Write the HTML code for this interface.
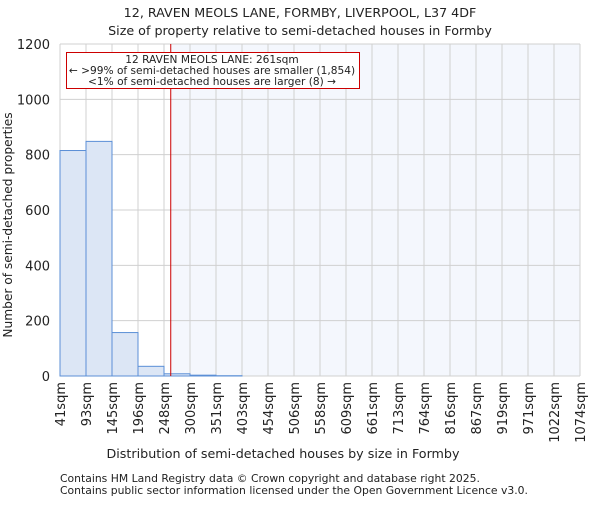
<!DOCTYPE html>
<html><head><meta charset="utf-8"><style>
body{margin:0;background:#fff;}
svg text{font-family:"DejaVu Sans","Liberation Sans",sans-serif;fill:#222;}
</style></head><body>
<svg width="600" height="500" viewBox="0 0 600 500">
<text x="300" y="17" text-anchor="middle" font-size="12.7">12, RAVEN MEOLS LANE, FORMBY, LIVERPOOL, L37 4DF</text>
<text x="300" y="35" text-anchor="middle" font-size="12.7">Size of property relative to semi-detached houses in Formby</text>
<g id="plot"></g>
<text x="283" y="458" text-anchor="middle" font-size="12.7">Distribution of semi-detached houses by size in Formby</text>
<text transform="translate(12,225) rotate(-90)" text-anchor="middle" font-size="12.2">Number of semi-detached properties</text>
<text x="60" y="482" font-size="10.8">Contains HM Land Registry data © Crown copyright and database right 2025.</text>
<text x="60" y="494" font-size="10.8">Contains public sector information licensed under the Open Government Licence v3.0.</text>
</svg>
<script>
const binEdges=[41,93,145,196,248,300,351,403,454,506,558,609,661,713,764,816,867,919,971,1022,1074];
const counts=[815,848,157,35,8,3,1,0,0,0,0,0,0,0,0,0,0,0,0,0];
const yTicks=[0,200,400,600,800,1000,1200];
const propertySize=261;
const ns="http://www.w3.org/2000/svg";
const L=60,R=580,T=44,B=376,minX=41,maxX=1074,maxY=1200;
const xs=v=>L+(v-minX)/(maxX-minX)*(R-L);
const ys=v=>B-v/maxY*(B-T);
const binX=i=>L+i*(R-L)/counts.length;
const g=document.getElementById('plot');
function mk(t,a){const e=document.createElementNS(ns,t);for(const k in a)e.setAttribute(k,a[k]);g.appendChild(e);return e;}
const px=xs(propertySize);
let e=mk('rect',{x:px,y:T,width:R-px,height:B-T,fill:'#f4f7fd'});


for(const t of yTicks){
 e=mk('line',{x1:L,x2:R,y1:ys(t),y2:ys(t),stroke:'#d0d0d0','stroke-width':1});
 
 
 e=mk('text',{x:L-10,y:ys(t)+5,'text-anchor':'end','font-size':13});
 e.textContent=t;
 
 
}
for(let i=0;i<binEdges.length;i++){
 const x=binX(i);
 e=mk('line',{x1:x,x2:x,y1:T,y2:B,stroke:'#d0d0d0','stroke-width':1});
 
 
 e=mk('text',{transform:`translate(${x+5},382) rotate(-90)`,'text-anchor':'end','font-size':13});
 e.textContent=binEdges[i]+'sqm';
 
 
}
counts.forEach((c,i)=>{
 const x=binX(i),w=binX(i+1)-x;
 e=mk('rect',{x:x,y:ys(c),width:w,height:B-ys(c),fill:'#dce6f5',stroke:'#5b8fd6','stroke-width':1});
 
 
});
e=mk('line',{x1:px,x2:px,y1:T,y2:B,stroke:'#cc0000','stroke-width':1});


e=mk('rect',{x:66.5,y:52.5,width:293,height:36,fill:'#fff',stroke:'#cc0000','stroke-width':1});


const lines=['12 RAVEN MEOLS LANE: 261sqm','← >99% of semi-detached houses are smaller (1,854)','<1% of semi-detached houses are larger (8) →'];
lines.forEach((s,i)=>{
 e=mk('text',{x:212,y:63+i*11,'text-anchor':'middle','font-size':10.6});
 e.textContent=s;
 
 
});
</script>
</body></html>
